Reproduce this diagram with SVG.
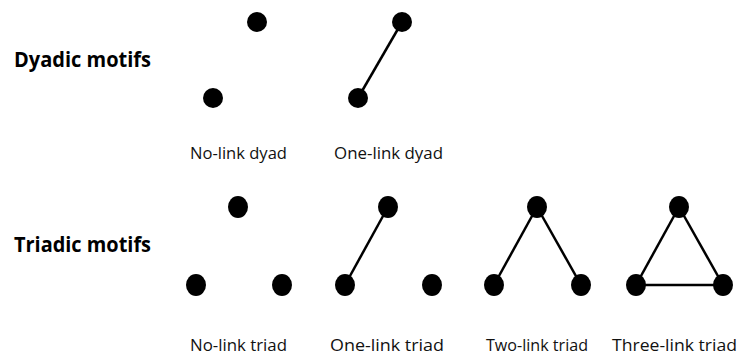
<svg xmlns="http://www.w3.org/2000/svg" width="741" height="356" viewBox="0 0 741 356">
<style>
.n{fill:#000}
.e{stroke:#000;stroke-width:2.5;fill:none}
.t{font-family:"Open Sans","Liberation Sans",sans-serif;font-weight:bold;font-size:20.5px;fill:#000}
.l{font-family:"Open Sans","Liberation Sans",sans-serif;font-size:16.5px;fill:#111}
</style>
<rect width="741" height="356" fill="#fff"/>
<text class="t" x="14" y="67" textLength="137" lengthAdjust="spacingAndGlyphs">Dyadic motifs</text>
<text class="t" x="14" y="252" textLength="137" lengthAdjust="spacingAndGlyphs">Triadic motifs</text>
<g id="connectors">
<line class="e" x1="358" y1="98" x2="402" y2="22"/>
<line class="e" x1="345" y1="285" x2="388" y2="207"/>
<line class="e" x1="494" y1="285" x2="537" y2="207"/>
<line class="e" x1="581" y1="285" x2="537" y2="207"/>
<line class="e" x1="636" y1="285" x2="679" y2="207"/>
<line class="e" x1="723" y1="285" x2="679" y2="207"/>
<line class="e" x1="636" y1="285" x2="723" y2="285"/>
</g>
<g id="noLinkDyad">
<circle class="n" cx="257" cy="22" r="10"/>
<circle class="n" cx="213" cy="98" r="10"/>
<text class="l" x="190" y="159" textLength="97" lengthAdjust="spacingAndGlyphs">No-link dyad</text>
</g>
<g id="oneLinkDyad">
<circle class="n" cx="402" cy="22" r="10"/>
<circle class="n" cx="358" cy="98" r="10"/>
<text class="l" x="334" y="159" textLength="109" lengthAdjust="spacingAndGlyphs">One-link dyad</text>
</g>
<g id="noLinkTriad">
<ellipse class="n" cx="238" cy="207" rx="10" ry="11"/>
<ellipse class="n" cx="196" cy="285" rx="10" ry="11"/>
<ellipse class="n" cx="282" cy="285" rx="10" ry="11"/>
<text class="l" x="190" y="351" textLength="97" lengthAdjust="spacingAndGlyphs">No-link triad</text>
</g>
<g id="oneLinkTriad">
<ellipse class="n" cx="388" cy="207" rx="10" ry="11"/>
<ellipse class="n" cx="345" cy="285" rx="10" ry="11"/>
<ellipse class="n" cx="432" cy="285" rx="10" ry="11"/>
<text class="l" x="330" y="351" textLength="114" lengthAdjust="spacingAndGlyphs">One-link triad</text>
</g>
<g id="twoLinkTriad">
<ellipse class="n" cx="537" cy="207" rx="10" ry="11"/>
<ellipse class="n" cx="494" cy="285" rx="10" ry="11"/>
<ellipse class="n" cx="581" cy="285" rx="10" ry="11"/>
<text class="l" x="486" y="351" textLength="102" lengthAdjust="spacingAndGlyphs">Two-link triad</text>
</g>
<g id="threeLinkTriad">
<ellipse class="n" cx="679" cy="207" rx="10" ry="11"/>
<ellipse class="n" cx="636" cy="285" rx="10" ry="11"/>
<ellipse class="n" cx="723" cy="285" rx="10" ry="11"/>
<text class="l" x="612" y="351" textLength="125" lengthAdjust="spacingAndGlyphs">Three-link triad</text>
</g>
</svg>
